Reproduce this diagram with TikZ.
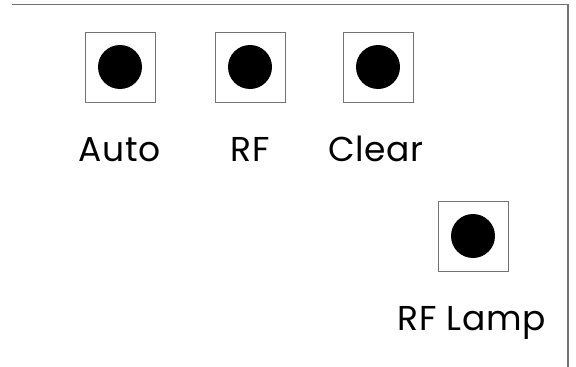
\documentclass[tikz,border=0pt]{standalone}
\usepackage{fontspec}
\setmainfont{Poppins}[LetterSpace=2]
\begin{document}
\begin{tikzpicture}[x=1pt,y=-1pt,
  frame/.style={draw=black!55,line width=1.2pt},
  btnbox/.style={draw=black!55,line width=1pt,minimum width=70pt,minimum height=70pt,inner sep=0pt},
  lamp/.style={fill=black,circle,minimum size=44pt,inner sep=0pt},
  lbl/.style={font=\fontsize{34.5}{34.5}\selectfont,anchor=base,inner sep=0pt}]
\useasboundingbox (0,0) rectangle (576,367);
\coordinate (tl) at (12,4.5);
\coordinate (tr) at (568,4.5);
\coordinate (br) at (568,367);
\draw[frame] (tl) -- (tr) -- (br);
\node[btnbox] (b1) at (120,67) {};
\node[lamp] (c1) at (b1.center) {};
\node[btnbox] (b2) at (250,67) {};
\node[lamp] (c2) at (b2.center) {};
\node[btnbox] (b3) at (378,67) {};
\node[lamp] (c3) at (b3.center) {};
\node[btnbox] (b4) at (473,236) {};
\node[lamp] (c4) at (b4.center) {};
\node[lbl] (l1) at (120,161) {Auto};
\node[lbl] (l2) at (250,161) {RF};
\node[lbl] (l3) at (376,161) {Clear};
\node[lbl] (l4) at (472,330) {RF Lamp};
\end{tikzpicture}
\end{document}
